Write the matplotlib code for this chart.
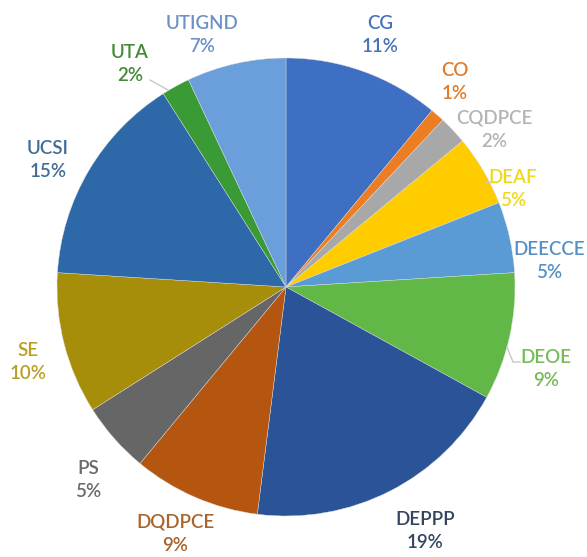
import numpy as np
import matplotlib.pyplot as plt

plt.rcParams['font.family'] = ['Lato', 'DejaVu Sans']

labels = ['CG', 'CO', 'CQDPCE', 'DEAF', 'DEECCE', 'DEOE', 'DEPPP',
          'DQDPCE', 'PS', 'SE', 'UCSI', 'UTA', 'UTIGND']
shares = [11, 1, 2, 5, 5, 9, 19, 9, 5, 10, 15, 2, 7]
colors = ['#3f6fc2', '#ed7d22', '#a8a8a8', '#ffcc00', '#5b9bd5', '#62b846',
          '#2a5497', '#b4560f', '#666666', '#a68d0a', '#2d68a8', '#3a9a35',
          '#6a9fdc']
text_colors = ['#4a72b8', '#e07c28', '#b4b4b4', '#f0d81c', '#5590c8', '#76bb58',
               '#34445e', '#a8642a', '#6a6a6a', '#b8a028', '#406c96', '#438a36',
               '#6c90c8']

W, H = 587, 557
cx, cy, R = 286, 287, 229

# label centres in pixel coords (layout only)
label_pos = [(380, 35), (455, 82), (494, 130), (513, 189), (549, 261),
             (546, 369), (425, 531), (175, 534), (88, 480), (28, 362),
             (48, 160), (130, 64), (202, 35)]

fig = plt.figure(figsize=(W / 100, H / 100), dpi=100)
ax = fig.add_axes([0, 0, 1, 1])

ax.pie(shares, colors=colors, startangle=90, counterclock=False,
       center=(cx, H - cy), radius=R,
       wedgeprops=dict(edgecolor='#dcdcdc', linewidth=0.3))

ax.set_xlim(0, W)
ax.set_ylim(0, H)
ax.set_aspect('equal')
ax.axis('off')

for name, val, (px, py), tc in zip(labels, shares, label_pos, text_colors):
    ax.text(px, H - py, f'{name}\n{val}%', ha='center', va='center',
            color=tc, fontsize=13.5, fontweight='semibold', linespacing=1.45)

# leader lines
for seg in [[(150, 80), (168, 90)], [(486, 182), (496, 182)],
            [(507, 347), (513, 362), (520, 362)]]:
    xs = [p[0] for p in seg]
    ys = [H - p[1] for p in seg]
    ax.plot(xs, ys, color='#c8c8c8', lw=1)

fig.savefig('out.png', dpi=100)
